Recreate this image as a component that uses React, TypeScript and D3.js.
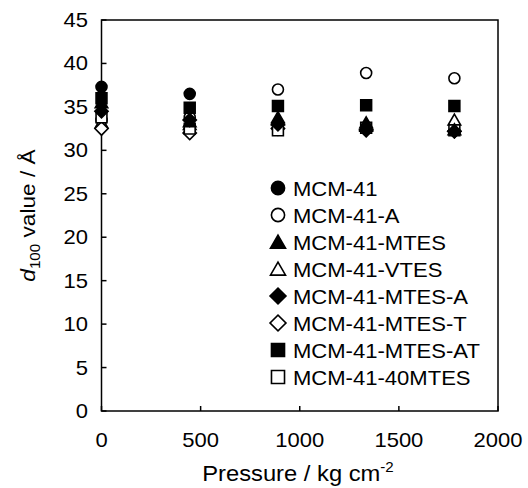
import React from "react";
import * as d3 from "d3";

const pressures = [0, 445, 890, 1335, 1780];
const seriesNames = [
  "MCM-41",
  "MCM-41-A",
  "MCM-41-MTES",
  "MCM-41-VTES",
  "MCM-41-MTES-A",
  "MCM-41-MTES-T",
  "MCM-41-MTES-AT",
  "MCM-41-40MTES",
];
const mcm41 = [37.3, 36.5, null, null, null];
const mcm41A = [33.5, 33.8, 37.0, 38.9, 38.3];
const mcm41MTES = [35.5, 33.3, 33.8, 33.2, 32.4];
const mcm41VTES = [33.2, 33.0, 33.5, 32.8, 33.5];
const mcm41MTESA = [34.5, 33.5, 33.0, 32.4, 32.2];
const mcm41MTEST = [32.5, 32.0, 32.5, 32.3, 32.2];
const mcm41MTESAT = [36.0, 34.9, 35.1, 35.2, 35.1];
const mcm41_40MTES = [33.8, 32.5, 32.3, 32.6, 32.3];
const seriesValues = [mcm41, mcm41A, mcm41MTES, mcm41VTES, mcm41MTESA, mcm41MTEST, mcm41MTESAT, mcm41_40MTES];
const seriesShapes = ["circle", "circle", "triangle", "triangle", "diamond", "diamond", "square", "square"];
const seriesFilled = [true, false, true, false, true, false, true, false];
const xTicks = [0, 500, 1000, 1500, 2000];
const yTicks = [0, 5, 10, 15, 20, 25, 30, 35, 40, 45];

const W = 528, H = 488;
const L = 101.5, R = 498, T = 20, B = 411;
const font = "'Liberation Sans', Arial, sans-serif";

function symbolPath(shape: string, k = 1) {
  const map: Record<string, any> = {
    circle: d3.symbolCircle,
    triangle: d3.symbolTriangle,
    diamond: d3.symbolSquare,
    square: d3.symbolSquare,
  };
  const size: Record<string, number> = { circle: 95, triangle: 68, diamond: 88, square: 118 };
  return d3.symbol(map[shape], size[shape] * k * k)() as string;
}

function Marker({ shape, filled, cx, cy, k = 1 }: { shape: string; filled: boolean; cx: number; cy: number; k?: number }) {
  const rot = shape === "diamond" ? " rotate(45)" : "";
  const dy = shape === "triangle" ? 1.5 * k : 0;
  return (
    <path
      d={symbolPath(shape, k)}
      transform={`translate(${cx},${cy + dy})${rot}`}
      fill={filled ? "black" : "white"}
      stroke="black"
      strokeWidth={1.6}
      strokeLinejoin="miter"
    />
  );
}

export default function App() {
  const x = d3.scaleLinear().domain([0, 2000]).range([L, R]);
  const y = d3.scaleLinear().domain([0, 45]).range([B, T]);
  const order = [1, 3, 5, 7, 0, 2, 4, 6];
  return (
    <svg width={W} height={H} style={{ display: "block", position: "absolute", left: 0, top: 0 }}>
      <rect x={0} y={0} width={W} height={H} fill="white" />
      <rect x={L} y={T} width={R - L} height={B - T} fill="none" stroke="black" strokeWidth={1.5} />
      {xTicks.map((t) => (
        <g key={"x" + t}>
          <line x1={x(t)} x2={x(t)} y1={B} y2={B - 5} stroke="black" strokeWidth={1.5} />
          <text transform={`translate(${x(t)},447) scale(1.1,1)`} textAnchor="middle" fontFamily={font} fontSize={20}>{t}</text>
        </g>
      ))}
      {yTicks.map((t) => (
        <g key={"y" + t}>
          <line x1={L} x2={L + 5} y1={y(t)} y2={y(t)} stroke="black" strokeWidth={1.5} />
          <text transform={`translate(88,${y(t) + 7}) scale(1.1,1)`} textAnchor="end" fontFamily={font} fontSize={20}>{t}</text>
        </g>
      ))}
      <text transform="translate(298,481) scale(1.08,1)" textAnchor="middle" fontFamily={font} fontSize={22}>
        Pressure / kg cm<tspan dy={-9} fontSize={14}>-2</tspan>
      </text>
      <text transform={`translate(35,${(T + B) / 2}) rotate(-90) scale(1.08,1)`} textAnchor="middle" fontFamily={font} fontSize={21}>
        <tspan fontStyle="italic">d</tspan>
        <tspan dy={5} fontSize={14}>100</tspan>
        <tspan dy={-5}> value / Å</tspan>
      </text>
      {order.map((si) => (
        <g key={"s" + si}>
          {seriesValues[si].map((v, i) =>
            v == null ? null : (
              <Marker key={i} shape={seriesShapes[si]} filled={seriesFilled[si]} cx={x(pressures[i])} cy={y(v)} />
            )
          )}
        </g>
      ))}
      {seriesNames.map((n, si) => (
        <g key={"l" + si} transform={`translate(0,${188 + si * 27})`}>
          <Marker shape={seriesShapes[si]} filled={seriesFilled[si]} cx={278} cy={0} k={1.2} />
          <text transform="translate(293,7.5) scale(1.05,1)" fontFamily={font} fontSize={21}>{n}</text>
        </g>
      ))}
    </svg>
  );
}
